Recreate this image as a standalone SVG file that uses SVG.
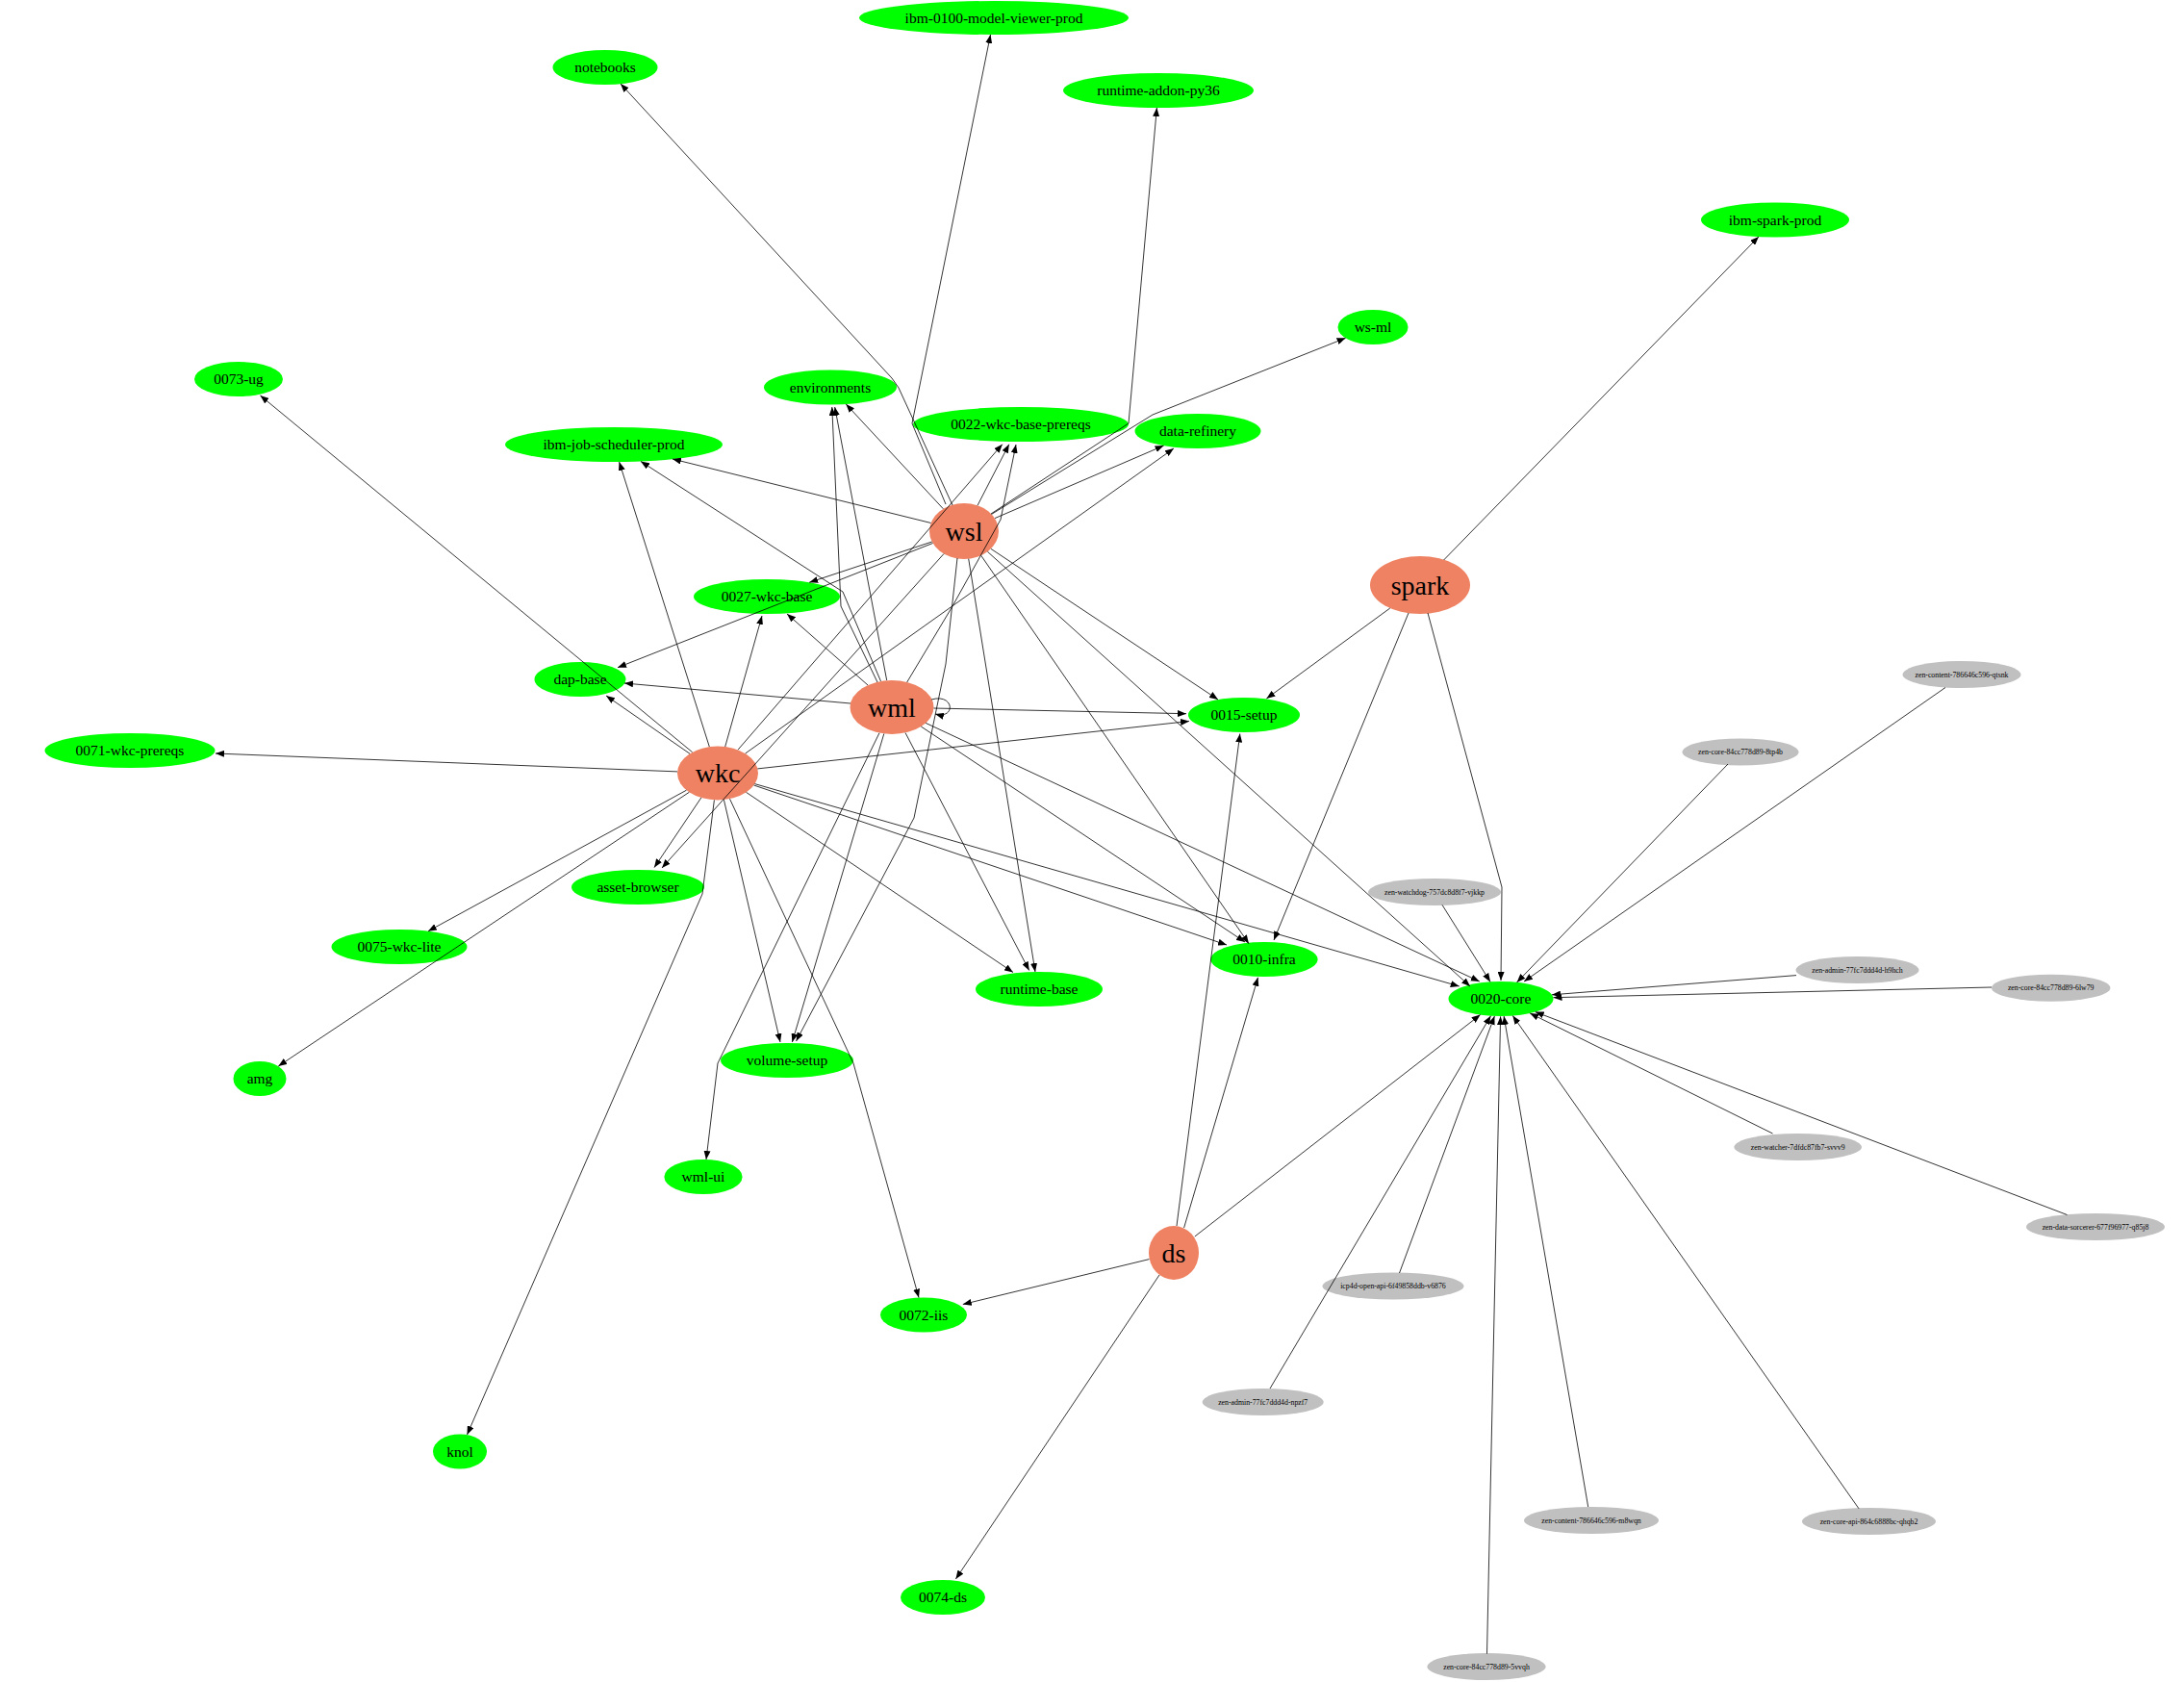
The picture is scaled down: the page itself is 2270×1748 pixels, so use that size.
<svg xmlns="http://www.w3.org/2000/svg" width="2270" height="1748" viewBox="0 0 2270 1748">
<style>
.bg{fill:#ffffff}
.s ellipse{fill:#ee8262}
.g ellipse{fill:#00ff00}
.y ellipse{fill:#c0c0c0}
text{font-family:"Liberation Serif","Times New Roman",serif;fill:#000;text-anchor:middle}
.s text{font-size:28px}
.g text{font-size:15.5px}
.y text{font-size:7.8px}
.edges path{fill:none;stroke:#000;stroke-width:0.8;marker-end:url(#arr)}
</style>
<defs>
<marker id="arr" markerUnits="userSpaceOnUse" markerWidth="9" markerHeight="7" viewBox="0 0 9 7" refX="9" refY="3.5" orient="auto">
<path d="M0,0 L9,3.5 L0,7 z" fill="#000"/>
</marker>
</defs>
<rect class="bg" x="0" y="0" width="2270" height="1748"/>

<g id="n-ibm-0100-model-viewer-prod" class="g"><ellipse cx="1033" cy="18.5" rx="140" ry="17.5"/><text x="1033" y="23.8">ibm-0100-model-viewer-prod</text></g>
<g id="n-notebooks" class="g"><ellipse cx="629" cy="70" rx="54.5" ry="18"/><text x="629" y="75.3">notebooks</text></g>
<g id="n-runtime-addon-py36" class="g"><ellipse cx="1204" cy="94" rx="99" ry="18"/><text x="1204" y="99.3">runtime-addon-py36</text></g>
<g id="n-ibm-spark-prod" class="g"><ellipse cx="1845" cy="228.5" rx="77" ry="18"/><text x="1845" y="233.8">ibm-spark-prod</text></g>
<g id="n-ws-ml" class="g"><ellipse cx="1427" cy="340" rx="36.5" ry="18"/><text x="1427" y="345.3">ws-ml</text></g>
<g id="n-0073-ug" class="g"><ellipse cx="248" cy="394" rx="46" ry="18"/><text x="248" y="399.3">0073-ug</text></g>
<g id="n-environments" class="g"><ellipse cx="863" cy="402.5" rx="69" ry="18"/><text x="863" y="407.8">environments</text></g>
<g id="n-0022-wkc-base-prereqs" class="g"><ellipse cx="1061" cy="441" rx="112" ry="18"/><text x="1061" y="446.3">0022-wkc-base-prereqs</text></g>
<g id="n-data-refinery" class="g"><ellipse cx="1245" cy="448" rx="65.5" ry="18"/><text x="1245" y="453.3">data-refinery</text></g>
<g id="n-ibm-job-scheduler-prod" class="g"><ellipse cx="638" cy="462" rx="113" ry="18"/><text x="638" y="467.3">ibm-job-scheduler-prod</text></g>
<g id="n-0027-wkc-base" class="g"><ellipse cx="797" cy="620" rx="76" ry="18"/><text x="797" y="625.3">0027-wkc-base</text></g>
<g id="n-dap-base" class="g"><ellipse cx="603" cy="706" rx="47.5" ry="18"/><text x="603" y="711.3">dap-base</text></g>
<g id="n-0015-setup" class="g"><ellipse cx="1293" cy="743" rx="58" ry="18"/><text x="1293" y="748.3">0015-setup</text></g>
<g id="n-0071-wkc-prereqs" class="g"><ellipse cx="135" cy="780" rx="88.5" ry="18"/><text x="135" y="785.3">0071-wkc-prereqs</text></g>
<g id="n-asset-browser" class="g"><ellipse cx="663" cy="922" rx="69" ry="18"/><text x="663" y="927.3">asset-browser</text></g>
<g id="n-0075-wkc-lite" class="g"><ellipse cx="415" cy="984" rx="70.5" ry="18"/><text x="415" y="989.3">0075-wkc-lite</text></g>
<g id="n-0010-infra" class="g"><ellipse cx="1314" cy="997" rx="55.6" ry="18"/><text x="1314" y="1002.3">0010-infra</text></g>
<g id="n-runtime-base" class="g"><ellipse cx="1080" cy="1028" rx="66" ry="18"/><text x="1080" y="1033.3">runtime-base</text></g>
<g id="n-0020-core" class="g"><ellipse cx="1560" cy="1038" rx="54.5" ry="18"/><text x="1560" y="1043.3">0020-core</text></g>
<g id="n-volume-setup" class="g"><ellipse cx="818" cy="1102" rx="69" ry="18"/><text x="818" y="1107.3">volume-setup</text></g>
<g id="n-amg" class="g"><ellipse cx="270" cy="1121" rx="27.5" ry="18"/><text x="270" y="1126.3">amg</text></g>
<g id="n-wml-ui" class="g"><ellipse cx="731" cy="1223" rx="40.6" ry="18"/><text x="731" y="1228.3">wml-ui</text></g>
<g id="n-0072-iis" class="g"><ellipse cx="960" cy="1366.5" rx="45" ry="18"/><text x="960" y="1371.8">0072-iis</text></g>
<g id="n-knol" class="g"><ellipse cx="478" cy="1508.5" rx="28" ry="18"/><text x="478" y="1513.8">knol</text></g>
<g id="n-0074-ds" class="g"><ellipse cx="980" cy="1660" rx="44" ry="18"/><text x="980" y="1665.3">0074-ds</text></g>

<g id="n-wsl" class="s"><ellipse cx="1002" cy="552" rx="36" ry="29"/><text x="1002" y="561.5">wsl</text></g>
<g id="n-wml" class="s"><ellipse cx="927" cy="735" rx="43.5" ry="28"/><text x="927" y="744.5">wml</text></g>
<g id="n-wkc" class="s"><ellipse cx="746" cy="803.5" rx="42" ry="28"/><text x="746" y="813">wkc</text></g>
<g id="n-spark" class="s"><ellipse cx="1476" cy="608" rx="52" ry="30"/><text x="1476" y="617.5">spark</text></g>
<g id="n-ds" class="s"><ellipse cx="1220" cy="1302" rx="26" ry="28"/><text x="1220" y="1311.5">ds</text></g>

<g id="n-zen-content-786646c596-qtsnk" class="y"><ellipse cx="2039" cy="701" rx="61.5" ry="14"/><text x="2039" y="703.7">zen-content-786646c596-qtsnk</text></g>
<g id="n-zen-core-84cc778d89-8tp4b" class="y"><ellipse cx="1809" cy="781.5" rx="60.5" ry="14"/><text x="1809" y="784.2">zen-core-84cc778d89-8tp4b</text></g>
<g id="n-zen-watchdog-757dc8d8f7-vjkkp" class="y"><ellipse cx="1491" cy="927" rx="69" ry="14"/><text x="1491" y="929.7">zen-watchdog-757dc8d8f7-vjkkp</text></g>
<g id="n-zen-admin-77fc7ddd4d-h9hch" class="y"><ellipse cx="1930.5" cy="1008" rx="64" ry="14"/><text x="1930.5" y="1010.7">zen-admin-77fc7ddd4d-h9hch</text></g>
<g id="n-zen-core-84cc778d89-6lw79" class="y"><ellipse cx="2131.7" cy="1026.7" rx="61.7" ry="14"/><text x="2131.7" y="1029.4">zen-core-84cc778d89-6lw79</text></g>
<g id="n-zen-watcher-7dfdc87fb7-svvv9" class="y"><ellipse cx="1868.7" cy="1192" rx="66.3" ry="14"/><text x="1868.7" y="1194.7">zen-watcher-7dfdc87fb7-svvv9</text></g>
<g id="n-zen-data-sorcerer-677f96977-q85j8" class="y"><ellipse cx="2178" cy="1275" rx="72" ry="14"/><text x="2178" y="1277.7">zen-data-sorcerer-677f96977-q85j8</text></g>
<g id="n-icp4d-open-api-6f49858ddb-v6876" class="y"><ellipse cx="1448" cy="1336.5" rx="73.5" ry="14"/><text x="1448" y="1339.2">icp4d-open-api-6f49858ddb-v6876</text></g>
<g id="n-zen-admin-77fc7ddd4d-npzf7" class="y"><ellipse cx="1312.7" cy="1457" rx="63" ry="14"/><text x="1312.7" y="1459.7">zen-admin-77fc7ddd4d-npzf7</text></g>
<g id="n-zen-content-786646c596-m8wqn" class="y"><ellipse cx="1654" cy="1580" rx="70" ry="14"/><text x="1654" y="1582.7">zen-content-786646c596-m8wqn</text></g>
<g id="n-zen-core-api-864c6888bc-qhqb2" class="y"><ellipse cx="1942.5" cy="1581" rx="69.5" ry="14"/><text x="1942.5" y="1583.7">zen-core-api-864c6888bc-qhqb2</text></g>
<g id="n-zen-core-84cc778d89-5vvqh" class="y"><ellipse cx="1545" cy="1732" rx="61.6" ry="14"/><text x="1545" y="1734.7">zen-core-84cc778d89-5vvqh</text></g>

<g id="edges" class="edges">
<path d="M990,525 L934,403 L927,393 L645,87"/>
<path d="M983,524 L948,440 L1029.5,36"/>
<path d="M1030,534 L1173,440 L1202.4,112"/>
<path d="M1030.6,534.4 L1198,431 L1398.6,351.3"/>
<path d="M1034,538.6 L1209.6,463.1"/>
<path d="M980.4,528.8 L879.3,420"/>
<path d="M967.6,543.5 L699,477"/>
<path d="M968.7,563 L841.2,605.3"/>
<path d="M969.5,564.5 L642,693.7"/>
<path d="M1016,525.3 L1048.8,461.7"/>
<path d="M1029.9,570.3 L1266,727"/>
<path d="M1019.7,577.3 L1298,980.7"/>
<path d="M1026.4,573.3 L1528,1025"/>
<path d="M1006.7,580.7 L1076,1010"/>
<path d="M995,580 L983,690 L950,850 L827.5,1082"/>
<path d="M981,575.5 L688,902"/>

<path d="M915.5,708 L876,615 L666,479.5"/>
<path d="M902,712 L818,638"/>
<path d="M884,731 L649,710"/>
<path d="M912,709 L874,630 L864.8,423"/>
<path d="M921.7,707 L867.7,423"/>
<path d="M942.7,709 L990,630 L1040,540 L1056,462"/>
<path d="M970.5,736 L1233,741.7"/>
<path d="M957.3,755 L1294,979"/>
<path d="M962.2,751.4 L1537.8,1020"/>
<path d="M941,761.5 L1069.7,1008.5"/>
<path d="M918.8,762.5 L823.4,1083"/>
<path d="M914,761.7 L746,1105 L734,1205"/>
<path d="M968,727 C992,720 994,748 972,742"/>

<path d="M704,801.9 L224,783"/>
<path d="M719.6,781.7 L270.5,411"/>
<path d="M737.3,776 L643.6,480"/>
<path d="M717,783.3 L630,723"/>
<path d="M753.7,776 L792,640"/>
<path d="M767,779.2 L1041.8,461.7"/>
<path d="M774.7,783 L1220,466"/>
<path d="M787.4,798.9 L1236,749.5"/>
<path d="M783.5,816 L1275,982"/>
<path d="M784.5,814.6 L1516.7,1025"/>
<path d="M775.6,823.4 L1053,1010.5"/>
<path d="M752.4,831.2 L811,1083"/>
<path d="M728.8,829 L680,901.6"/>
<path d="M713.5,821.2 L445,967.7"/>
<path d="M716.3,823.3 L289.3,1108"/>
<path d="M742.4,831.4 L730,929 L485.5,1491"/>
<path d="M758.5,830.2 L887,1105 L955,1348.6"/>

<path d="M1500.6,582 L1827.9,246"/>
<path d="M1444.8,632 L1316.4,726"/>
<path d="M1464,637 L1324,977"/>
<path d="M1484,637 L1561,922 L1560,1019"/>

<path d="M1223,1274 L1288.8,762.5"/>
<path d="M1230.6,1276 L1307.5,1015.8"/>
<path d="M1241.8,1285 L1538.6,1054.6"/>
<path d="M1194.5,1308.6 L1000.8,1355.5"/>
<path d="M1205,1325 L993.4,1641"/>

<path d="M2022,714.5 L1584,1020"/>
<path d="M1796,794 L1576.6,1020.9"/>
<path d="M1499,940.4 L1549,1020.4"/>
<path d="M1867,1013.6 L1613,1033.8"/>
<path d="M2070,1026 L1614.5,1036.7"/>
<path d="M1842.5,1178 L1590.2,1053"/>
<path d="M2148.5,1262.5 L1595.7,1051.6"/>
<path d="M1454.5,1323 L1553.4,1055.9"/>
<path d="M1320,1443 L1549.5,1055.7"/>
<path d="M1650.7,1566 L1563.1,1056"/>
<path d="M1932,1567.8 L1572.3,1055.5"/>
<path d="M1545.5,1718.6 L1559.6,1056.3"/>
</g>
</svg>
